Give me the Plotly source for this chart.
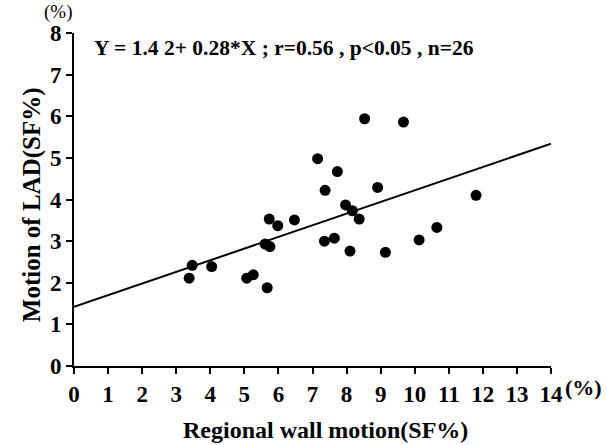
import plotly.graph_objects as go

# Data
wall_motion = [7.15, 7.73, 7.37, 7.97, 8.17, 8.37, 5.73, 5.98, 6.47, 5.61, 5.75,
               7.35, 7.64, 8.10, 3.47, 3.38, 4.04, 5.07, 5.26, 5.67, 8.53, 9.67,
               8.91, 11.80, 9.14, 10.13, 10.65]
lad_motion = [4.98, 4.67, 4.22, 3.87, 3.73, 3.53, 3.53, 3.37, 3.51, 2.93, 2.87,
              3.00, 3.07, 2.76, 2.42, 2.11, 2.39, 2.11, 2.19, 1.88, 5.94, 5.86,
              4.29, 4.10, 2.73, 3.03, 3.33]

fit_intercept = 1.42
fit_slope = 0.28
fit_x = [0, 14]
fit_y = [fit_intercept + fit_slope * v for v in fit_x]

x_ticks = list(range(0, 15))
y_ticks = list(range(0, 9))

equation = "Y = 1.4 2+ 0.28*X ; r=0.56 , p<0.05 , n=26"
x_title = "Regional wall motion(SF%)"
y_title = "Motion of LAD(SF%)"

FONT = "Liberation Serif"

fig = go.Figure()
fig.add_trace(go.Scatter(x=fit_x, y=fit_y, mode="lines",
                         line=dict(color="black", width=2), showlegend=False,
                         hoverinfo="skip"))
fig.add_trace(go.Scatter(x=wall_motion, y=lad_motion, mode="markers",
                         marker=dict(color="black", size=11), showlegend=False))

tickfont = dict(family=FONT, size=23, color="black", weight="bold")

fig.update_layout(
    width=607, height=445,
    margin=dict(l=74, r=56, t=33, b=79),
    paper_bgcolor="white", plot_bgcolor="white",
    xaxis=dict(range=[0, 14], tickvals=x_ticks,
               ticktext=["<b>%d</b>" % v for v in x_ticks],
               showgrid=False, zeroline=False, showline=True, linecolor="black",
               linewidth=2, ticks="outside", ticklen=6, tickwidth=2, tickcolor="black",
               tickfont=tickfont),
    yaxis=dict(range=[0, 8], tickvals=y_ticks,
               ticktext=["<b>%d</b>" % v for v in y_ticks],
               showgrid=False, zeroline=False, showline=True, linecolor="black",
               linewidth=2, ticks="outside", ticklen=6, tickwidth=2, tickcolor="black",
               tickfont=tickfont),
    annotations=[
        dict(text="<b>%s</b>" % equation, xref="paper", yref="paper", x=0.0377, y=0.955,
             xanchor="left", yanchor="middle", showarrow=False,
             font=dict(family=FONT, size=21.5, color="black")),
        dict(text="<b>%s</b>" % x_title, xref="paper", yref="paper", x=0.528, y=-0.192,
             xanchor="center", yanchor="middle", showarrow=False,
             font=dict(family=FONT, size=24, color="black")),
        dict(text="<b>%s</b>" % y_title, xref="paper", yref="paper", x=-0.088, y=0.483,
             xanchor="center", yanchor="middle", showarrow=False, textangle=-90,
             font=dict(family=FONT, size=25, color="black")),
        dict(text="(%)", xref="paper", yref="paper", x=-0.0335, y=1.062,
             xanchor="center", yanchor="middle", showarrow=False,
             font=dict(family=FONT, size=19, color="black")),
        dict(text="<b>(%)</b>", xref="paper", yref="paper", x=1.068, y=-0.066,
             xanchor="center", yanchor="middle", showarrow=False,
             font=dict(family=FONT, size=22, color="black")),
    ],
)

fig.write_html("out.html")
